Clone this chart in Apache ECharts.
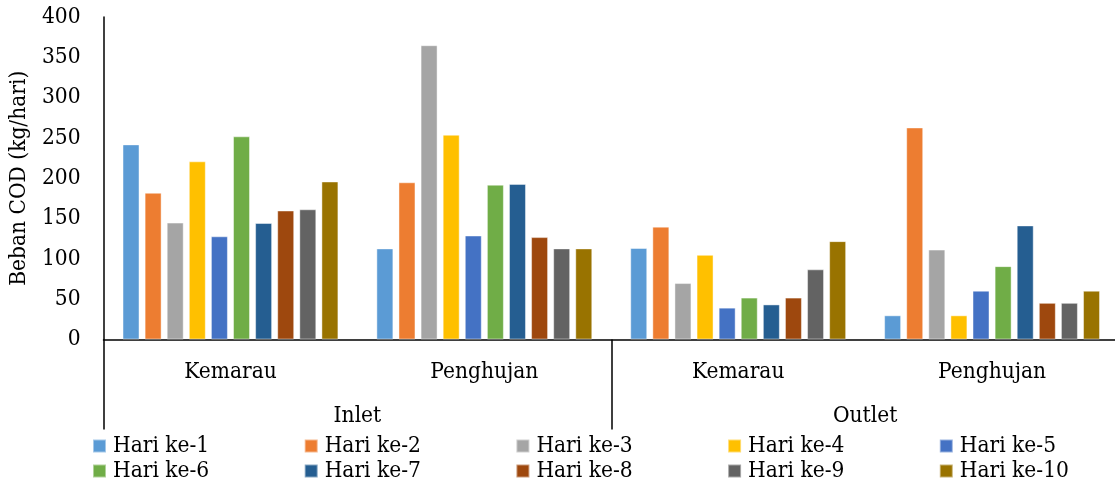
<!DOCTYPE html>
<html>
<head>
<meta charset="utf-8">
<script src="https://cdn.jsdelivr.net/npm/echarts@6/dist/echarts.min.js"></script>
<style>
  html, body { margin: 0; padding: 0; background: #fff; overflow: hidden; }
  /* the plot runs slightly past the right edge of the visible page */
  #chart { width: 1122px; height: 488px; }
</style>
</head>
<body>
<div id="chart"></div>
<script>
// Sampling sites (outer level) and seasons (inner level) on the category axis
const sites = ['Inlet', 'Outlet'];
const seasons = ['Kemarau', 'Penghujan', 'Kemarau', 'Penghujan'];

// COD load (kg/hari) per sampling day: Inlet-Kemarau, Inlet-Penghujan, Outlet-Kemarau, Outlet-Penghujan
const hari1  = [242, 113, 113.5, 30];
const hari2  = [182, 195, 140, 263];
const hari3  = [145, 365, 70, 111.5];
const hari4  = [221, 254, 105, 30];
const hari5  = [128, 129, 39.5, 60.5];
const hari6  = [252, 192, 52, 91];
const hari7  = [144.5, 193, 43.5, 141.5];
const hari8  = [160, 127, 52, 45.5];
const hari9  = [161.5, 113, 87, 45.5];
const hari10 = [196, 113, 122, 60.5];

const dayNames = ['Hari ke-1', 'Hari ke-2', 'Hari ke-3', 'Hari ke-4', 'Hari ke-5',
                  'Hari ke-6', 'Hari ke-7', 'Hari ke-8', 'Hari ke-9', 'Hari ke-10'];
const dayValues = [hari1, hari2, hari3, hari4, hari5, hari6, hari7, hari8, hari9, hari10];

// y-axis ticks
const yMin = 0, yMax = 400, yStep = 50;

const palette = ['#5B9BD5', '#ED7D31', '#A5A5A5', '#FFC000', '#4472C4',
                 '#70AD47', '#255E91', '#9E480E', '#636363', '#997300'];

const FONT = '"DejaVu Serif Condensed", "DejaVu Serif", serif';
const FS = 22.5;
const TXT = '#000';

const chart = echarts.init(document.getElementById('chart'), null, { renderer: 'canvas' });

const series = dayNames.map((name, i) => ({
  name: name,
  type: 'bar',
  xAxisIndex: 0,
  yAxisIndex: 0,
  barWidth: 17,
  barGap: '30%',
  data: dayValues[i],
  itemStyle: { color: palette[i], borderColor: 'rgba(255,255,255,0.45)', borderWidth: 1 }
}));

// legend laid out as five columns of two entries
const legends = [0, 1, 2, 3, 4].map(c => ({
  orient: 'vertical',
  left: 92 + c * 211.7,
  top: 434,
  padding: 0,
  height: 54,
  icon: 'rect',
  itemWidth: 13,
  itemHeight: 13,
  itemGap: 1,
  data: [dayNames[c], dayNames[c + 5]],
  textStyle: { fontFamily: FONT, fontSize: FS, color: TXT, lineHeight: 24, padding: [0, 0, 0, 2] }
}));

chart.setOption({
  animation: false,
  color: palette,
  grid: { left: 103, top: 17, width: 1016, height: 322.5, containLabel: false },
  legend: legends,
  xAxis: [
    {
      type: 'category',
      data: seasons,
      position: 'bottom',
      axisLine: { show: true, lineStyle: { color: '#000', width: 1.5 } },
      axisTick: { show: false },
      axisLabel: { margin: 21, fontFamily: FONT, fontSize: FS, color: TXT },
      splitLine: { show: false }
    },
    {
      type: 'category',
      data: sites,
      position: 'bottom',
      axisLine: { show: false },
      axisTick: { show: true, length: 90, lineStyle: { color: '#000', width: 1.5 } },
      axisLabel: { margin: 65, fontFamily: FONT, fontSize: FS, color: TXT },
      splitLine: { show: false }
    }
  ],
  yAxis: {
    type: 'value',
    min: yMin,
    max: yMax,
    interval: yStep,
    axisLine: { show: true, lineStyle: { color: '#000', width: 1.5 } },
    axisTick: { show: false },
    splitLine: { show: false },
    axisLabel: { margin: 23, fontFamily: FONT, fontSize: FS, color: TXT },
    name: 'Beban COD (kg/hari)',
    nameLocation: 'middle',
    nameGap: 68,
    nameTextStyle: { fontFamily: FONT, fontSize: FS, color: TXT }
  },
  series: series
});
</script>
</body>
</html>
